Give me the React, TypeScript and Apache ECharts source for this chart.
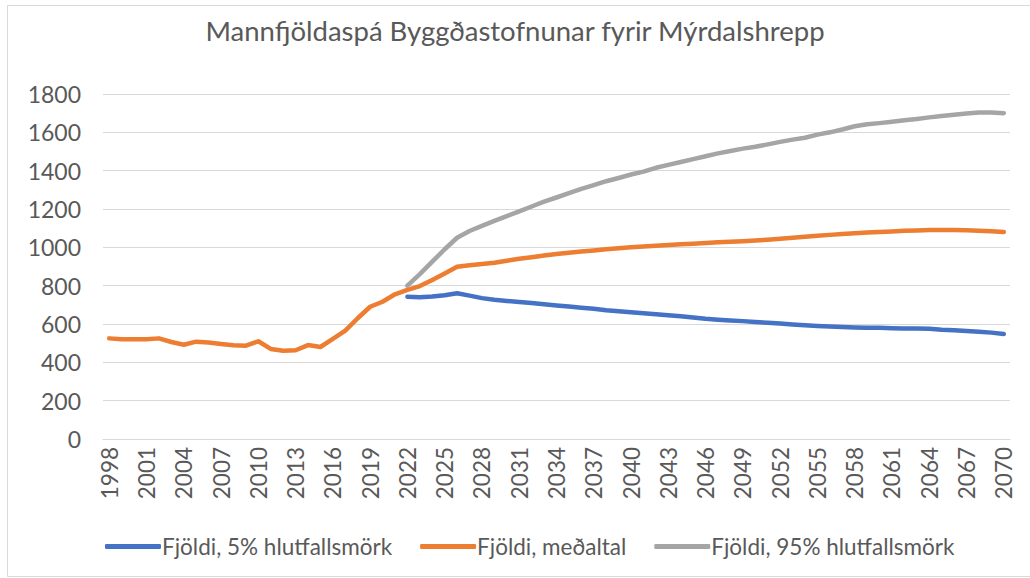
import React, { useEffect, useRef } from "react";
import * as echarts from "echarts";

const years: string[] = [];
for (let y = 1998; y <= 2070; y++) years.push(String(y));

const projectionStart = "2022";

const meanValues = [
  525, 521, 520, 521, 525, 506, 492, 508, 503, 496, 489, 487, 510, 470, 460, 463, 490, 480, 522, 565,
  630, 690, 716, 755, 778,
  798, 830, 864, 899, 907, 913, 920, 930, 940, 948, 957, 965, 972, 978, 984, 990, 995, 1000, 1004,
  1008, 1012, 1016, 1019, 1022, 1026, 1029, 1032, 1036, 1040, 1045, 1050, 1055, 1060, 1065, 1069,
  1073, 1077, 1080, 1083, 1086, 1088, 1090, 1090, 1090, 1089, 1087, 1084, 1080,
];

const lowValues = [
  742, 740, 743, 750, 760, 748, 735, 726, 720, 715, 709, 703, 697, 691, 685, 680, 672, 666, 661, 656,
  651, 646, 640, 634, 627, 622, 618, 615, 611, 606, 602, 598, 594, 590, 587, 584, 582, 581, 580, 578,
  577, 576, 575, 570, 568, 564, 560, 555, 548,
];

const highValues = [
  800, 860, 925, 990, 1050, 1085, 1112, 1138, 1163, 1188, 1213, 1238, 1260, 1283, 1305, 1325, 1345,
  1362, 1380, 1395, 1415, 1430, 1445, 1460, 1475, 1490, 1503, 1515, 1525, 1537, 1550, 1562, 1572,
  1588, 1600, 1615, 1632, 1642, 1648, 1655, 1663, 1670, 1678, 1685, 1692, 1698, 1703, 1704, 1700,
];

const seriesNames = ["Fjöldi, 5% hlutfallsmörk", "Fjöldi, meðaltal", "Fjöldi, 95% hlutfallsmörk"];
const title = "Mannfjöldaspá Byggðastofnunar fyrir Mýrdalshrepp";

const pad = (vals: number[]) => {
  const offset = years.indexOf(projectionStart);
  return years.map((_, i) => (i >= offset ? vals[i - offset] : null));
};

export default function App() {
  const ref = useRef<HTMLDivElement>(null);
  useEffect(() => {
    document.body.style.margin = "0";
    const chart = echarts.init(ref.current!, null, { renderer: "svg" });
    const txt = "#595959";
    const font = "Lato, sans-serif";
    const mk = (name: string, data: (number | null)[], color: string) => ({
      name,
      type: "line",
      data,
      showSymbol: false,
      symbol: "none",
      connectNulls: false,
      lineStyle: { color, width: 4.5, cap: "round", join: "round" },
      itemStyle: { color },
    });
    chart.setOption({
      animation: false,
      backgroundColor: "#fff",
      textStyle: { fontFamily: font },
      title: {
        text: title,
        left: "center",
        top: 11,
        textStyle: { color: txt, fontSize: 27.5, fontWeight: "normal", fontFamily: font },
      },
      graphic: [
        {
          type: "rect",
          shape: { x: 7.5, y: 5.5, width: 1030, height: 571 },
          style: { fill: "none", stroke: "#d9d9d9", lineWidth: 1 },
          silent: true,
        },
      ],
      legend: {
        top: 530,
        left: 100,
        itemWidth: 56,
        itemHeight: 5,
        itemGap: 28,
        icon: "roundRect",
        textStyle: { color: txt, fontSize: 22.5, fontFamily: font, padding: [0, 0, 0, -4] },
        data: seriesNames,
      },
      grid: { left: 103, right: 20, top: 94, bottom: 139 },
      xAxis: {
        type: "category",
        data: years,
        boundaryGap: true,
        axisLine: { show: true, lineStyle: { color: "#d9d9d9", width: 1 } },
        axisTick: { show: false },
        axisLabel: { interval: 2, rotate: 90, color: txt, fontSize: 22.5, margin: 8, fontFamily: font },
      },
      yAxis: {
        type: "value",
        min: 0,
        max: 1800,
        interval: 200,
        axisLine: { show: false },
        axisTick: { show: false },
        axisLabel: {
          color: txt,
          fontSize: 23,
          margin: 22,
          fontFamily: font,
          formatter: (v: number) => String(v),
        },
        splitLine: { lineStyle: { color: "#d9d9d9", width: 1 } },
      },
      series: [
        mk(seriesNames[0], pad(lowValues), "#4472C4"),
        mk(seriesNames[1], meanValues, "#ED7D31"),
        mk(seriesNames[2], pad(highValues), "#A5A5A5"),
      ],
    });
    return () => chart.dispose();
  }, []);
  return <div ref={ref} style={{ width: 1030, height: 578 }} />;
}
